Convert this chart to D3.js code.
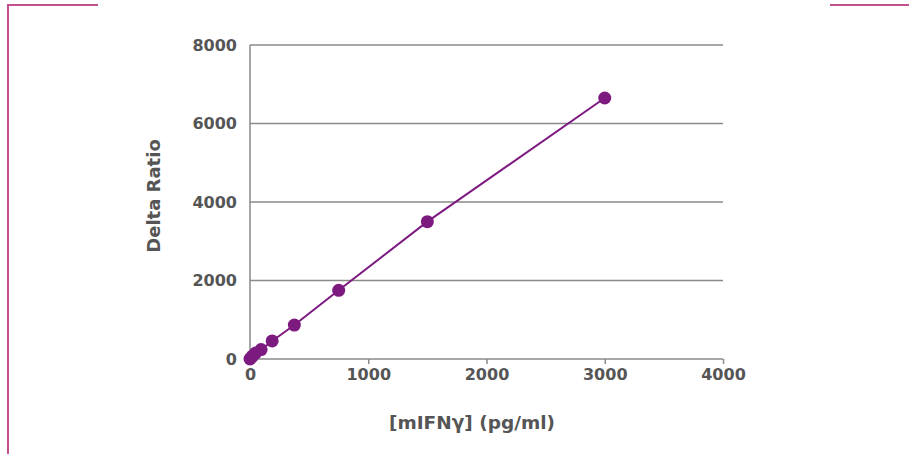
<!DOCTYPE html>
<html><head><meta charset="utf-8">
<script src="https://cdn.jsdelivr.net/npm/d3@7"></script>
<style>
body{margin:0;background:#fff;}
text{font-family:"DejaVu Sans",sans-serif;font-weight:bold;fill:#555;}
</style></head><body>
<svg id="c" width="909" height="454"></svg>
<script>
const concentrations = [0, 11.7, 23.4, 46.9, 93.75, 187.5, 375, 750, 1500, 3000];
const deltaRatio = [0, 40, 80, 150, 240, 460, 865, 1750, 3500, 6650];
const xTicks = [0, 1000, 2000, 3000, 4000];
const yTicks = [0, 2000, 4000, 6000, 8000];

const svg = d3.select("#c");
const pink = "#c2508f";
// decorative frame
svg.append("line").attr("x1",8).attr("x2",98).attr("y1",5).attr("y2",5).attr("stroke",pink).attr("stroke-width",2);
svg.append("line").attr("x1",8).attr("x2",8).attr("y1",4).attr("y2",454).attr("stroke",pink).attr("stroke-width",2);
svg.append("line").attr("x1",830).attr("x2",909).attr("y1",5).attr("y2",5).attr("stroke",pink).attr("stroke-width",2);

const x = d3.scaleLinear().domain([0,4000]).range([250,723]);
const y = d3.scaleLinear().domain([0,8000]).range([359,45]);
const gray = "#8a8a8a";

// gridlines
svg.append("g").selectAll("line").data(yTicks.slice(1)).join("line")
  .attr("x1",x(0)).attr("x2",x(4000)).attr("y1",d=>y(d)).attr("y2",d=>y(d))
  .attr("stroke",gray).attr("stroke-width",1.5);

const xAxis = svg.append("g").attr("transform",`translate(0,${y(0)})`)
  .call(d3.axisBottom(x).tickValues(xTicks).tickFormat(d3.format("d")).tickSize(5).tickPadding(5));
const yAxis = svg.append("g").attr("transform",`translate(${x(0)},0)`)
  .call(d3.axisLeft(y).tickValues(yTicks).tickFormat(d3.format("d")).tickSize(0).tickPadding(13));
[xAxis,yAxis].forEach(a=>{
  a.selectAll("path,line").attr("stroke",gray).attr("stroke-width",1.5);
  a.selectAll("text").style("font-size","16px").style("fill","#555");
});
yAxis.select(".domain").attr("d",`M0,${y(8000)}V${y(0)}`);
xAxis.select(".domain").attr("d",`M0,0H${x(4000)-x(0)}`).attr("transform",`translate(${x(0)},0)`);

const purple = "#7d1a80";
const pts = concentrations.map((c,i)=>[c,deltaRatio[i]]);
svg.append("path").datum(pts)
  .attr("d",d3.line().x(d=>x(d[0])).y(d=>y(d[1])))
  .attr("fill","none").attr("stroke",purple).attr("stroke-width",2);
svg.append("g").selectAll("circle").data(pts).join("circle")
  .attr("cx",d=>x(d[0])).attr("cy",d=>y(d[1])).attr("r",6.5).attr("fill",purple);

svg.append("text").attr("x",472).attr("y",429).attr("text-anchor","middle")
  .style("font-size","18.5px").text("[mIFNγ] (pg/ml)");
svg.append("text").attr("transform",`translate(160,196) rotate(-90)`)
  .attr("text-anchor","middle").style("font-size","18px").text("Delta Ratio");
</script></body></html>
